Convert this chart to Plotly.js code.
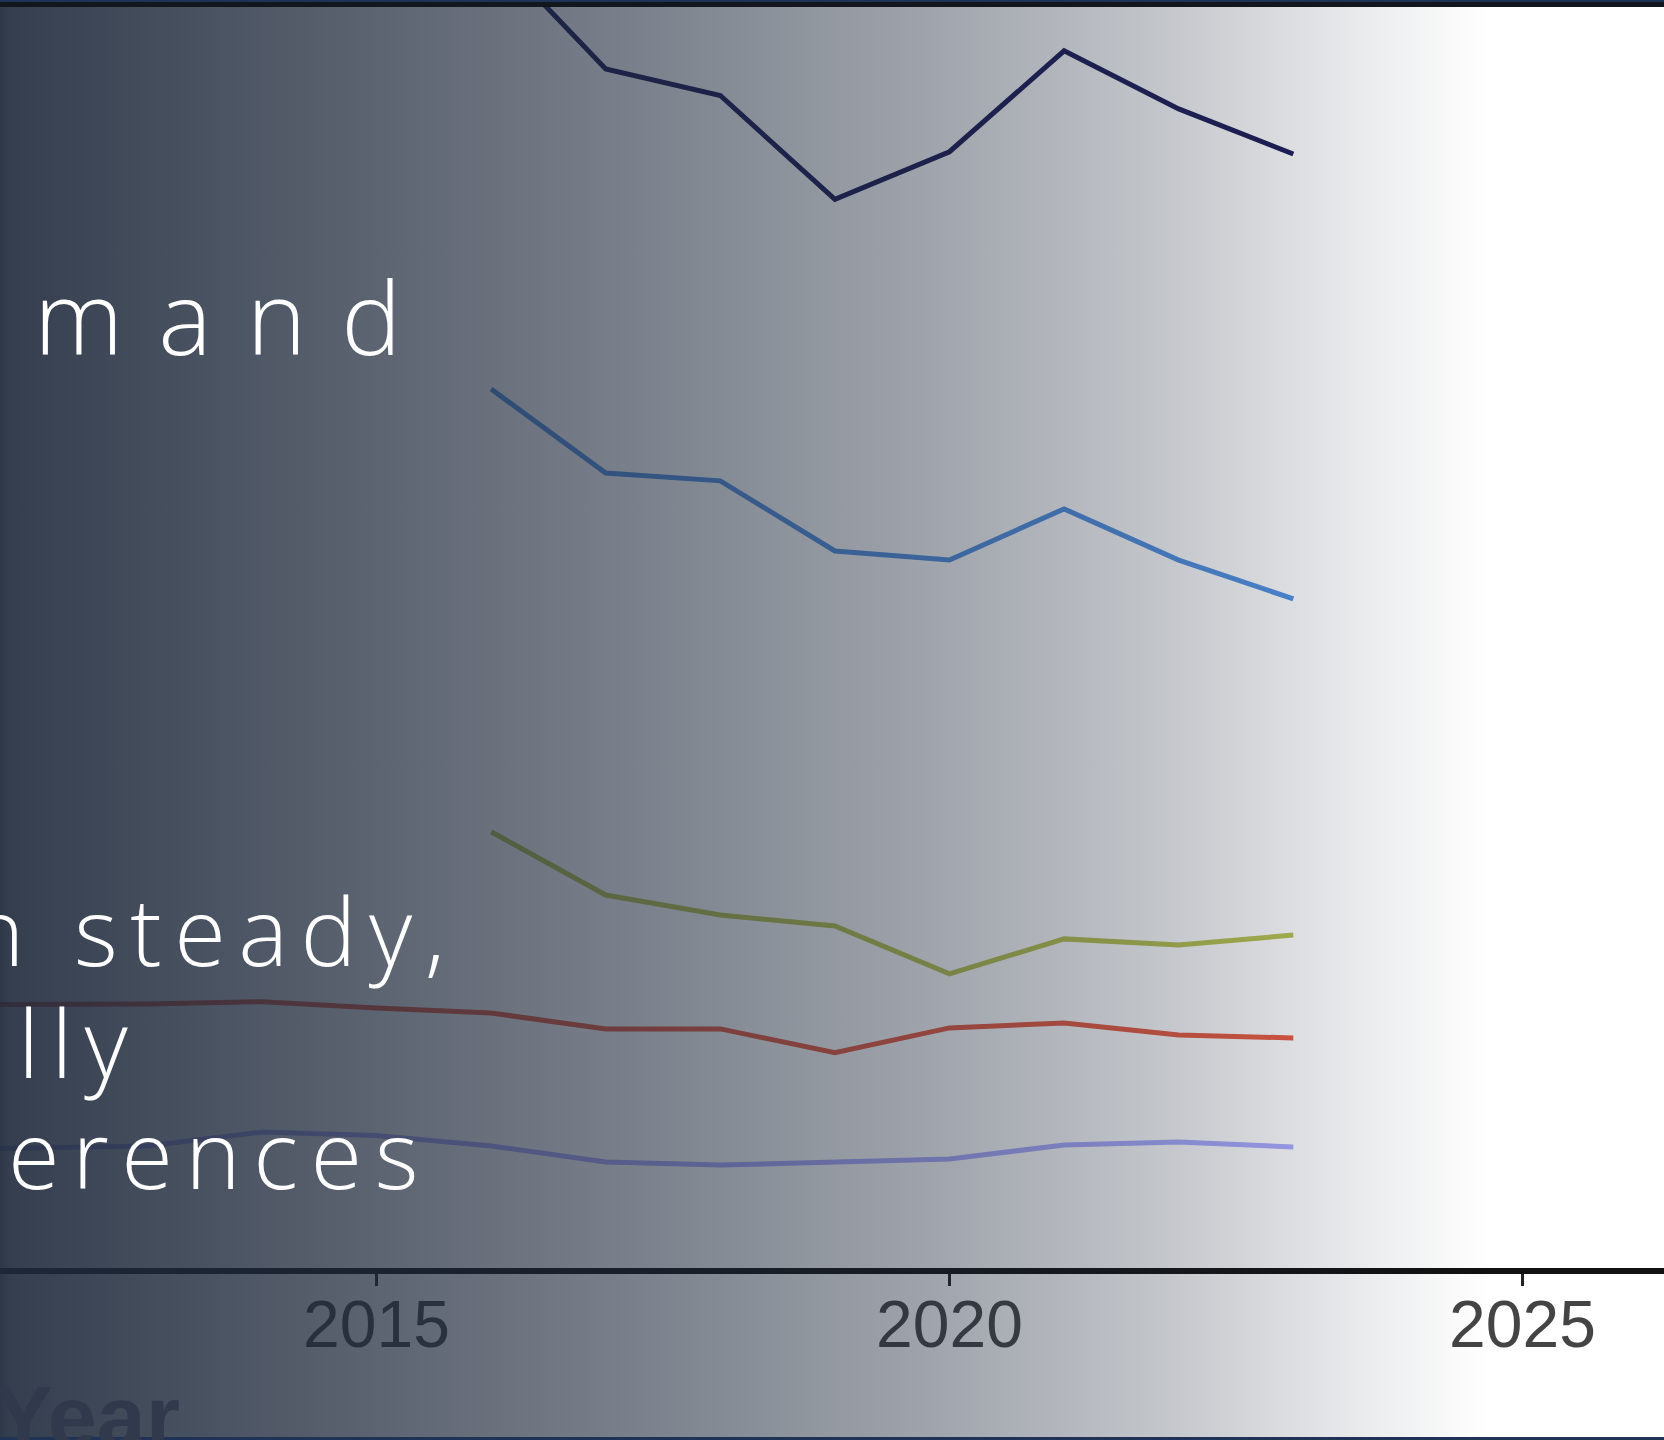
<!DOCTYPE html>
<html>
<head>
<meta charset="utf-8">
<script src="https://cdn.plot.ly/plotly-3.0.1.min.js"></script>
<style>
  html, body { margin: 0; padding: 0; background: #ffffff; }
  #chart { width: 1664px; height: 1440px; }
</style>
</head>
<body>
<div id="chart"></div>
<script>
// ---------------- data ----------------
const yearsShort = [2016, 2017, 2018, 2019, 2020, 2021, 2022, 2023];
const yearsLong  = [2011, 2012, 2013, 2014, 2015, 2016, 2017, 2018, 2019, 2020, 2021, 2022, 2023];

const navyValues   = [52.30, 47.54, 46.49, 42.37, 44.26, 48.26, 45.96, 44.17];
const blueValues   = [34.85, 31.52, 31.21, 28.43, 28.07, 30.10, 28.07, 26.53];
const greenValues  = [17.30, 14.79, 14.00, 13.56, 11.66, 13.05, 12.81, 13.20];
const redValues    = [10.43, 10.43, 10.47, 10.56, 10.31, 10.11, 9.48, 9.48, 8.54, 9.52, 9.71, 9.24, 9.12];
const purpleValues = [4.68, 4.76, 4.84, 5.39, 5.25, 4.84, 4.20, 4.08, 4.20, 4.32, 4.88, 5.00, 4.80];

const tickYears  = [2015, 2020, 2025];
const tickLabels = ['2015', '2020', '2025'];

const textMand    = 'mand';
const textSteady  = 'n steady,';
const textLly     = 'lly';
const textErences = 'erences';
const axisTitle   = 'Year';

// ---------------- layout helpers ----------------
const W = 1664, H = 1440;
const M = { l: 0, r: 0, t: 0, b: 172 };
const plotH = H - M.t - M.b;
const px2x = px => px / W;
const px2y = py => (plotH - py) / plotH;

const overlayStops = [
  [0.000, 0.93], [0.006, 0.90], [0.190, 0.755], [0.383, 0.59],
  [0.574, 0.41], [0.701, 0.265], [0.829, 0.08], [0.895, 0.0]
];
const svg = "<svg xmlns='http://www.w3.org/2000/svg' width='1664' height='1440' viewBox='0 0 1664 1440' preserveAspectRatio='none'>" +
  "<defs><linearGradient id='g' x1='0' y1='0' x2='1' y2='0'>" +
  overlayStops.map(s => "<stop offset='" + s[0] + "' stop-color='#1e293b' stop-opacity='" + s[1] + "'/>").join('') +
  "</linearGradient></defs><rect x='0' y='0' width='1664' height='1440' fill='url(#g)'/></svg>";
const overlaySrc = 'data:image/svg+xml;charset=utf-8,' + encodeURIComponent(svg);

function line(x, y, color, name) {
  return { type: 'scatter', mode: 'lines', x: x, y: y, name: name,
           line: { color: color, width: 5 }, hoverinfo: 'skip', showlegend: false };
}

const traces = [
  line(yearsShort, navyValues,   '#1c1c58', 'Navy'),
  line(yearsShort, blueValues,   '#5290e2', 'Blue'),
  line(yearsShort, greenValues,  '#b8c24e', 'Green'),
  line(yearsLong,  redValues,    '#e85a40', 'Red'),
  line(yearsLong,  purpleValues, '#aaaaff', 'Purple')
];

const whiteFont = (size, weight) => ({ family: 'Open Sans, Noto Sans, sans-serif', size: size, color: '#ffffff', weight: weight });

const layout = {
  width: W, height: H,
  margin: M,
  paper_bgcolor: '#ffffff',
  plot_bgcolor: '#ffffff',
  showlegend: false,
  xaxis: {
    range: [2011.7147, 2026.2347],
    tickmode: 'array', tickvals: tickYears, ticktext: tickLabels,
    ticks: 'outside', ticklen: 12, tickwidth: 3, tickcolor: '#222',
    ticklabelstandoff: -18,
    showline: true, linecolor: '#111', linewidth: 6,
    showgrid: false, zeroline: false,
    tickfont: { family: 'Liberation Sans, Arial, sans-serif', size: 66, color: '#444' },
    fixedrange: true
  },
  yaxis: { range: [0, 50.277], visible: false, showgrid: false, zeroline: false, fixedrange: true },
  images: [{
    source: overlaySrc, xref: 'paper', yref: 'paper',
    x: 0, y: 1, sizex: 1, sizey: H / plotH,
    xanchor: 'left', yanchor: 'top', sizing: 'stretch', layer: 'above'
  }],
  shapes: [
    { type: 'rect', xref: 'paper', yref: 'paper', x0: 0, x1: 1, y0: px2y(7), y1: px2y(0),
      fillcolor: '#12161d', line: { width: 0 }, layer: 'above' },
    { type: 'rect', xref: 'paper', yref: 'paper', x0: 0, x1: 1, y0: px2y(2), y1: px2y(0),
      fillcolor: '#1f3358', line: { width: 0 }, layer: 'above' },
    { type: 'rect', xref: 'paper', yref: 'paper', x0: 0, x1: 1, y0: px2y(1440), y1: px2y(1437),
      fillcolor: '#1f3356', line: { width: 0 }, layer: 'above' }
  ],
  annotations: [
    { text: textMand, xref: 'paper', yref: 'paper', x: px2x(32), y: px2y(351 - 35),
      xanchor: 'left', yanchor: 'middle', align: 'left', showarrow: false, font: whiteFont(101, 350) },
    { text: textSteady, xref: 'paper', yref: 'paper', x: px2x(-33), y: px2y(963 - 33),
      xanchor: 'left', yanchor: 'middle', align: 'left', showarrow: false, font: whiteFont(94, 350) },
    { text: textLly, xref: 'paper', yref: 'paper', x: px2x(16), y: px2y(1075 - 33),
      xanchor: 'left', yanchor: 'middle', align: 'left', showarrow: false, font: whiteFont(94, 350) },
    { text: textErences, xref: 'paper', yref: 'paper', x: px2x(6), y: px2y(1186 - 33),
      xanchor: 'left', yanchor: 'middle', align: 'left', showarrow: false, font: whiteFont(94, 350) },
    { text: '<b>' + axisTitle + '</b>', xref: 'paper', yref: 'paper', x: px2x(-8), y: px2y(1447 - 31),
      xanchor: 'left', yanchor: 'middle', align: 'left', showarrow: false,
      font: { family: 'Liberation Sans, Arial, sans-serif', size: 88, color: 'rgb(48,58,76)' } }
  ]
};

const spacing = { 0: '35px', 1: '12.5px', 2: '12px', 3: '12.5px' };

Plotly.newPlot('chart', traces, layout, { staticPlot: true, displayModeBar: false }).then(gd => {
  gd.querySelectorAll('.annotation').forEach(g => {
    const idx = g.getAttribute('data-index');
    if (spacing[idx]) {
      g.querySelectorAll('text').forEach(t => { t.style.letterSpacing = spacing[idx]; });
    }
  });
});
</script>
</body>
</html>
